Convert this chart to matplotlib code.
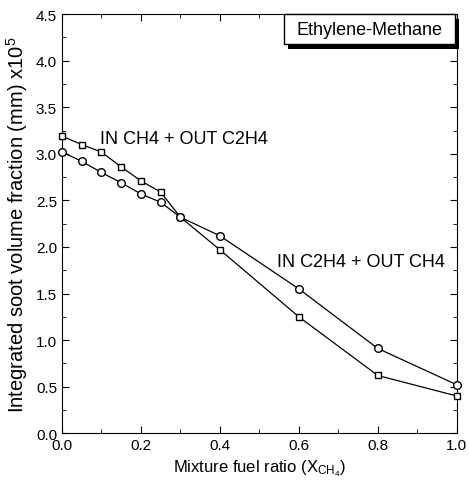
import matplotlib
matplotlib.use('Agg')
import matplotlib.pyplot as plt
from matplotlib.ticker import MultipleLocator
from matplotlib.patches import Rectangle

plt.rcParams['font.family'] = ['Liberation Sans', 'DejaVu Sans']
plt.rcParams['mathtext.fontset'] = 'custom'
plt.rcParams['mathtext.rm'] = 'Liberation Sans'
plt.rcParams['mathtext.it'] = 'Liberation Sans'

# Data
x = [0.0, 0.05, 0.1, 0.15, 0.2, 0.25, 0.3, 0.4, 0.6, 0.8, 1.0]
in_ch4_out_c2h4 = [3.19, 3.10, 3.02, 2.86, 2.71, 2.59, 2.32, 1.97, 1.25, 0.62, 0.40]
in_c2h4_out_ch4 = [3.02, 2.92, 2.80, 2.69, 2.57, 2.48, 2.32, 2.12, 1.55, 0.91, 0.52]

fig = plt.figure(figsize=(4.69, 4.89), dpi=100)
ax = fig.add_axes([0.132, 0.112, 0.842, 0.857])

ax.plot(x, in_ch4_out_c2h4, 'k-', marker='s', mfc='white', mec='black', ms=5, lw=0.9, clip_on=False, zorder=3)
ax.plot(x, in_c2h4_out_ch4, 'k-', marker='o', mfc='white', mec='black', ms=5.5, lw=0.9, clip_on=False, zorder=3)

ax.text(0.097, 3.16, 'IN CH4 + OUT C2H4', fontsize=13, va='center')
ax.text(0.545, 1.84, 'IN C2H4 + OUT CH4', fontsize=13, va='center')

# title box with drop shadow
ax.add_patch(Rectangle((0.572, 0.918), 0.433, 0.07, transform=ax.transAxes,
                       fc='black', ec='none', clip_on=False, zorder=4))
ax.add_patch(Rectangle((0.562, 0.928), 0.433, 0.072, transform=ax.transAxes,
                       fc='white', ec='black', lw=1.0, clip_on=False, zorder=5))
ax.text(0.78, 0.963, 'Ethylene-Methane', fontsize=13, ha='center', va='center',
        transform=ax.transAxes, zorder=6)

ax.set_xlim(0, 1.0)
ax.set_ylim(0, 4.5)
ax.xaxis.set_major_locator(MultipleLocator(0.2))
ax.xaxis.set_minor_locator(MultipleLocator(0.1))
ax.yaxis.set_major_locator(MultipleLocator(0.5))
ax.yaxis.set_minor_locator(MultipleLocator(0.25))
ax.xaxis.set_major_formatter(plt.FormatStrFormatter('%.1f'))
ax.yaxis.set_major_formatter(plt.FormatStrFormatter('%.1f'))
ax.tick_params(which='both', direction='in', top=True, right=True, labelsize=11)
ax.tick_params(which='major', length=5)
ax.tick_params(which='minor', length=3)

ax.set_xlabel(r'Mixture fuel ratio (X$_{\rm CH_4}$)', fontsize=12)
ax.set_ylabel(r'Integrated soot volume fraction (mm) x10$^5$', fontsize=14.5)

fig.savefig('out.png', dpi=100)
